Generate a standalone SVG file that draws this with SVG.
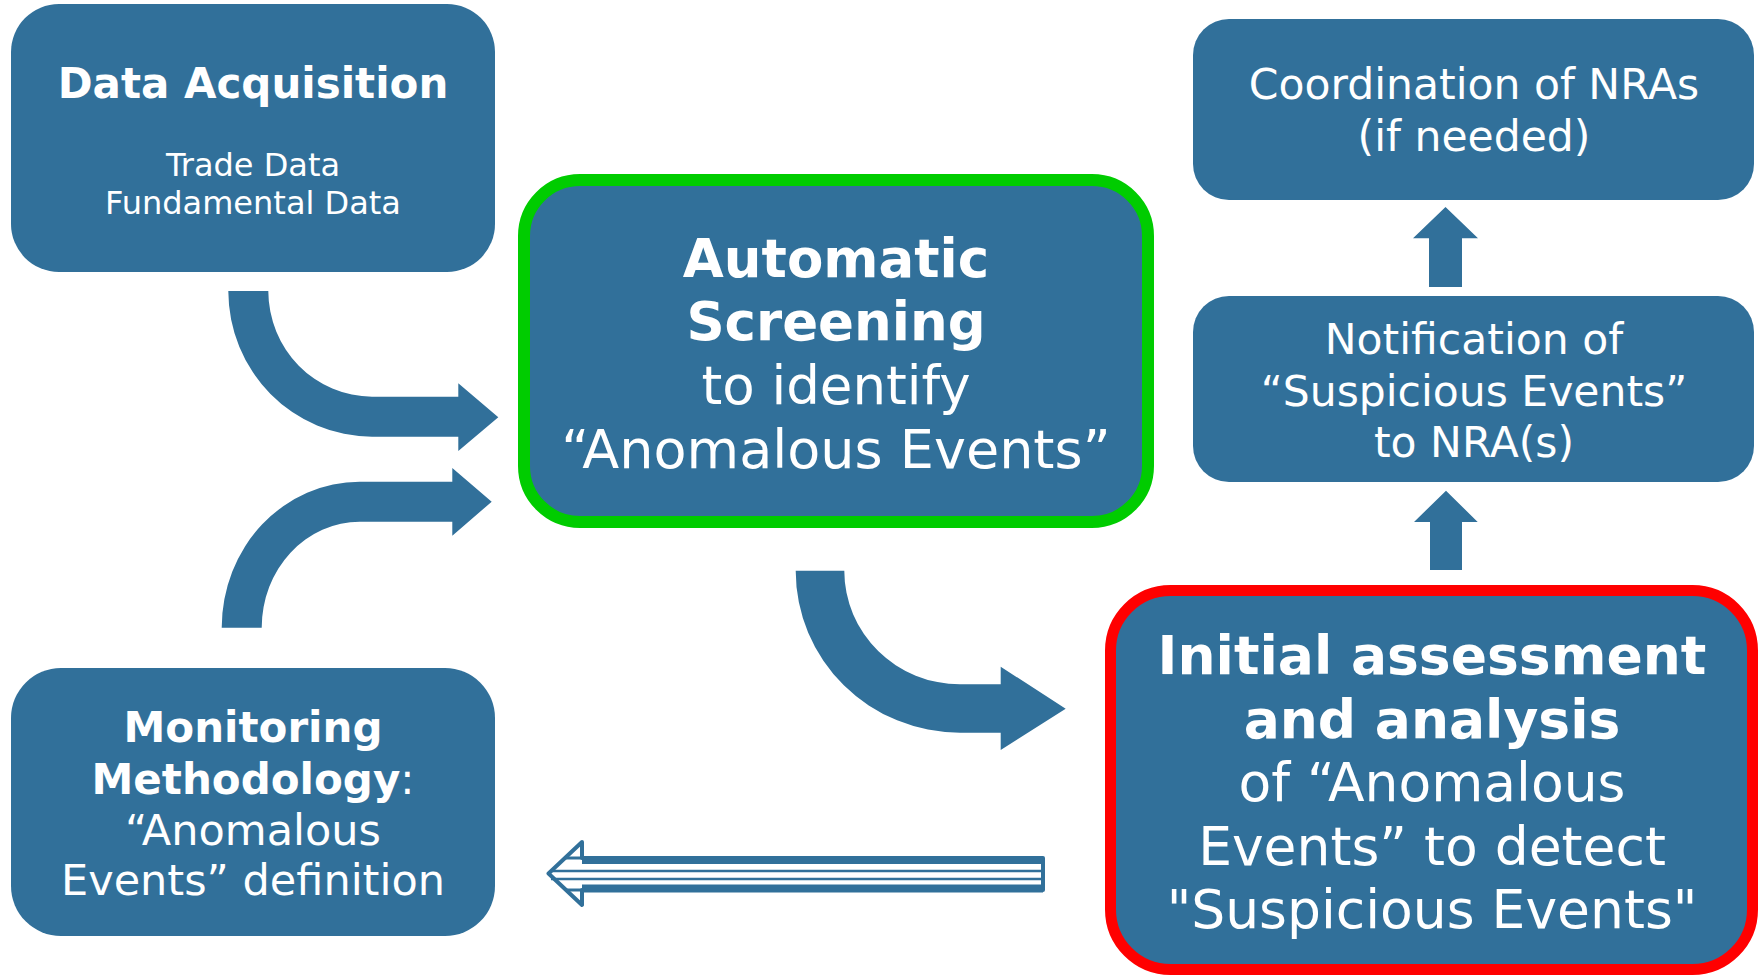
<svg xmlns="http://www.w3.org/2000/svg" width="1760" height="975" viewBox="0 0 1760 975">
  <style>
    .box { fill: #31709a; }
    .t { font-family: "DejaVu Sans", Verdana, sans-serif; fill: #ffffff; text-anchor: middle; }
    .b { font-weight: bold; }
    .arrow { fill: #31709a; }
  </style>
  <rect width="1760" height="975" fill="#ffffff"/>

  <g id="connectors">
    <path class="arrow" d="M228.3,291 A144,146 0 0 0 372,436.7 L458.3,436.7 L458.3,451 L498.3,417.3 L458.3,383.3 L458.3,396.7 L372,396.7 A104,106 0 0 1 268.3,291 Z"/>
    <path class="arrow" d="M221.7,627.7 A138,146 0 0 1 360,481.7 L452.3,481.7 L452.3,468 L491.7,501.7 L452.3,535.7 L452.3,521.7 L360,521.7 A98,106 0 0 0 261.7,627.7 Z"/>
    <path class="arrow" d="M795.7,570.7 A164.3,162 0 0 0 960,732.7 L1000.7,732.7 L1000.7,750 L1065.7,708.7 L1000.7,666.7 L1000.7,684.3 L960,684.3 A115.7,113.6 0 0 1 844.3,570.7 Z"/>
    <path class="arrow" d="M1429,287 L1429,238.3 L1413,238.3 L1445.5,207 L1478,238.3 L1462,238.3 L1462,287 Z"/>
    <path class="arrow" d="M1430,570 L1430,522 L1414,522 L1446,490.7 L1477.7,522 L1462,522 L1462,570 Z"/>
    <g id="striped-arrow">
      <polygon points="1043,858 582,858 582,842 548.5,873.5 582,905 582,890 1043,890" fill="#ffffff" stroke="#31709a" stroke-width="4" stroke-linejoin="round"/>
      <rect x="582" y="856" width="461" height="8" fill="#31709a"/>
      <rect x="582" y="884.5" width="461" height="8" fill="#31709a"/>
      <line x1="566" y1="858" x2="582" y2="858" stroke="#31709a" stroke-width="3"/>
      <line x1="566" y1="890" x2="582" y2="890" stroke="#31709a" stroke-width="3"/>
      <line x1="551" y1="871" x2="1043" y2="871" stroke="#31709a" stroke-width="2.5"/>
      <line x1="551" y1="879" x2="1043" y2="879" stroke="#31709a" stroke-width="2.5"/>
    </g>
  </g>

  <g id="data-acquisition">
    <rect class="box" x="11" y="4" width="484" height="268" rx="48" ry="48"/>
    <text class="t b" x="253" y="98" font-size="42">Data Acquisition</text>
    <text class="t" x="253" y="176" font-size="32">Trade Data</text>
    <text class="t" x="253" y="214" font-size="32">Fundamental Data</text>
  </g>

  <g id="automatic-screening">
    <rect class="box" x="524" y="180" width="624" height="342" rx="56" ry="56" stroke="#00cc00" stroke-width="12"/>
    <text class="t b" x="836" y="277" font-size="53">Automatic</text>
    <text class="t b" x="836" y="340" font-size="53">Screening</text>
    <text class="t" x="836" y="404" font-size="53">to identify</text>
    <text class="t" x="836" y="468" font-size="54">“Anomalous Events”</text>
  </g>

  <g id="coordination">
    <rect class="box" x="1193" y="19" width="561" height="181" rx="36" ry="36"/>
    <text class="t" x="1474" y="99" font-size="42.5">Coordination of NRAs</text>
    <text class="t" x="1474" y="151" font-size="42.5">(if needed)</text>
  </g>

  <g id="notification">
    <rect class="box" x="1193" y="296" width="561" height="186" rx="36" ry="36"/>
    <text class="t" x="1474" y="354" font-size="42.5">Notification of</text>
    <text class="t" x="1474" y="406" font-size="42.5">“Suspicious Events”</text>
    <text class="t" x="1474" y="457" font-size="42.5">to NRA(s)</text>
  </g>

  <g id="initial-assessment">
    <rect class="box" x="1110.5" y="590.5" width="642" height="379" rx="60" ry="60" stroke="#ff0000" stroke-width="11"/>
    <text class="t b" x="1432" y="674" font-size="53.5">Initial assessment</text>
    <text class="t b" x="1432" y="737.5" font-size="53.5">and analysis</text>
    <text class="t" x="1432" y="801" font-size="53.5">of “Anomalous</text>
    <text class="t" x="1432" y="864.5" font-size="53.5">Events” to detect</text>
    <text class="t" x="1432" y="928" font-size="53.5">"Suspicious Events"</text>
  </g>

  <g id="monitoring-methodology">
    <rect class="box" x="11" y="668" width="484" height="268" rx="50" ry="50"/>
    <text class="t b" x="253" y="742" font-size="42">Monitoring</text>
    <text class="t" x="253" y="794" font-size="42"><tspan class="b">Methodology</tspan>:</text>
    <text class="t" x="253" y="844.5" font-size="43">“Anomalous</text>
    <text class="t" x="253" y="895" font-size="43">Events” definition</text>
  </g>
</svg>
